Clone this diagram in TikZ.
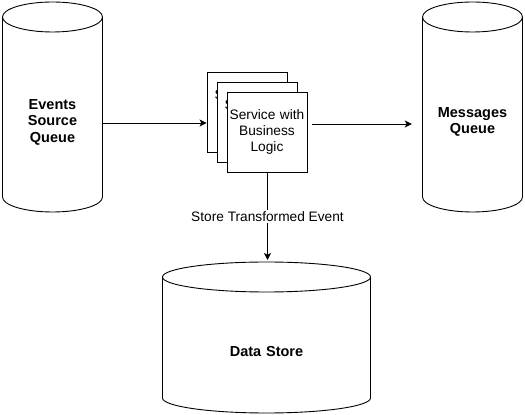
\documentclass[tikz,border=0pt]{standalone}
\usepackage{fontspec}
\setmainfont{Liberation Sans}
\usetikzlibrary{arrows.meta}
\begin{document}
\begin{tikzpicture}[x=1pt,y=1pt,
  ln/.style={draw=black,line width=0.9pt},
  arr/.style={ln,-{Stealth[length=7pt,width=7pt,inset=1.8pt]}},
  btxt/.style={font=\fontsize{14.5}{16.5}\selectfont\bfseries,align=center,inner sep=0pt,text width=100pt},
  svc/.style={ln,fill=white,minimum width=80pt,minimum height=80pt,inner sep=0pt,align=center,text width=80pt,font=\fontsize{13.7}{16}\selectfont},
  svctxt/.style={inner sep=0pt,align=center,text width=80pt,font=\fontsize{13.7}{16}\selectfont},
  lbl/.style={fill=white,inner sep=1.5pt,font=\fontsize{13.7}{16}\selectfont}]
\useasboundingbox (0,0) rectangle (525,415);
% cylinders
\draw[ln,fill=white] (2.5,398) -- (2.5,218) arc[start angle=180,end angle=360,x radius=50,y radius=15] -- (102.5,398);
\draw[ln,fill=white] (52.5,398) ellipse[x radius=50,y radius=15];
\draw[ln,fill=white] (422.5,398) -- (422.5,218) arc[start angle=180,end angle=360,x radius=50,y radius=15] -- (522.5,398);
\draw[ln,fill=white] (472.5,398) ellipse[x radius=50,y radius=15];
\draw[ln,fill=white] (162.5,138) -- (162.5,17) arc[start angle=180,end angle=360,x radius=104,y radius=15] -- (370.5,138);
\draw[ln,fill=white] (266.5,138) ellipse[x radius=104,y radius=15];
% cylinder texts
\node[btxt] (evq) at (52.5,293) {Events\\Source\\Queue};
\node[btxt] (msq) at (472.5,293) {Messages\\Queue};
\node[btxt,text width=200pt] (ds) at (266.5,63) {Data Store};
\coordinate (dstop) at (267.5,155);
% stacked service boxes
\node[svc] (back) at (247,303) {};
\node[svctxt] (backtxt) at ([xshift=5pt]back.center) {Service with\\Business\\Logic};
\node[svc] (mid) at (257,293) {};
\node[svctxt] (midtxt) at ([xshift=5pt]mid.center) {Service with\\Business\\Logic};
\node[svc] (front) at (267,283) {Service with\\Business\\Logic};
% connectors
\draw[arr] (evq.east |- 0,292) -- (back.west |- 0,292);
\draw[arr] ([xshift=4.5pt]front.east |- 0,291) -- ([xshift=-10.5pt]msq.west |- 0,291);
\draw[arr] (front.south -| dstop) -- node[lbl,midway] {Store Transformed Event} (dstop);
\end{tikzpicture}
\end{document}
